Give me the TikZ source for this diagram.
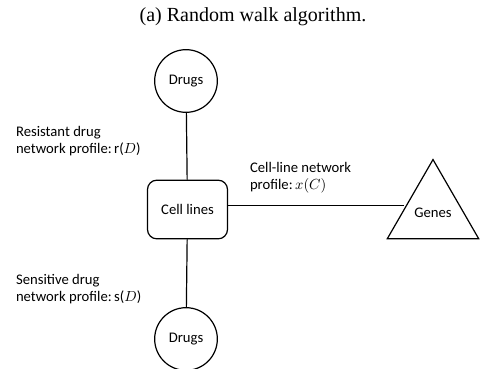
\documentclass[tikz,border=0pt]{standalone}
\usepackage{fontspec}
\setmainfont{Carlito}
\newfontfamily\capfont{Liberation Serif}
\usetikzlibrary{shapes.geometric}

\begin{document}
\begin{tikzpicture}[x=0.75pt, y=-0.75pt, font=\fontsize{11}{13}\selectfont, line width=0.9pt]
\useasboundingbox (0,0) rectangle (485,368);
\node[font=\capfont\fontsize{15}{17}\selectfont] (title) at (253,17) {(a) Random walk algorithm.};
\node[circle, draw, minimum size=47pt, inner sep=0pt] (d1) at (186,81) {Drugs};
\node[draw, rounded corners=7pt, minimum width=60pt, minimum height=44pt] (cell) at (187.5,209.5) {Cell lines};
\node[circle, draw, minimum size=47pt, inner sep=0pt] (d2) at (186,339) {Drugs};
\node[regular polygon, regular polygon sides=3, draw, minimum size=77pt, inner sep=0pt] (genes) at (433,212.3) {\raisebox{-2pt}{Genes}};
\node[anchor=west, align=left] (res) at (11,141) {Resistant drug\\network profile:\,r($D$)};
\node[anchor=west, align=left] (cl) at (245,178) {Cell-line network\\profile:\,$x(C)$};
\node[anchor=west, align=left] (sen) at (11,289) {Sensitive drug\\network profile:\,s($D$)};
\draw (d1)--(cell)--(d2);
\draw ([yshift=3pt]cell.east)--([xshift=1.8pt,yshift=3pt]genes.west |- cell.east);
\end{tikzpicture}
\end{document}
